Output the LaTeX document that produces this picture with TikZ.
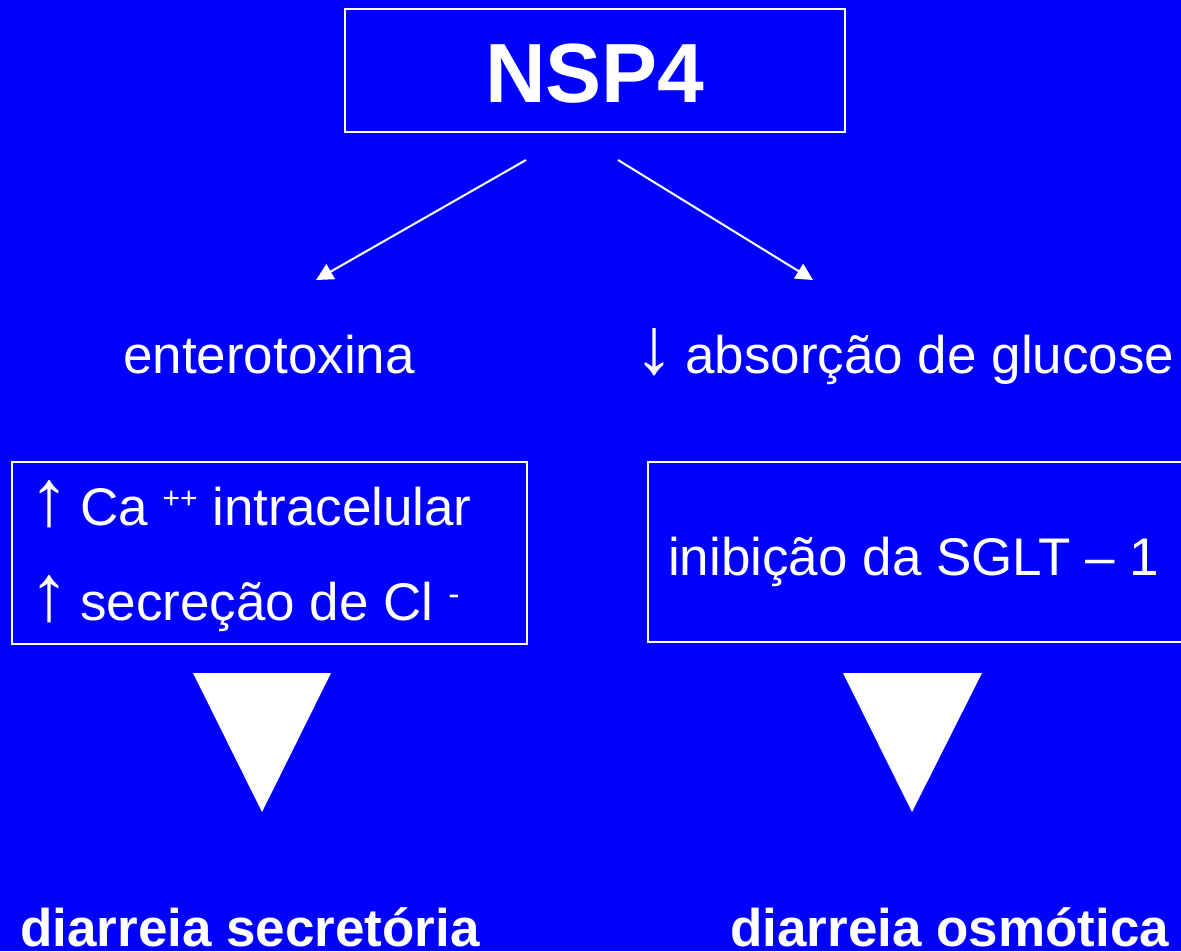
\documentclass[tikz,border=0pt]{standalone}
\usepackage{fontspec}
\setmainfont{Liberation Sans}
\usetikzlibrary{arrows.meta}
\definecolor{bgblue}{RGB}{0,0,255}
\newcommand{\bigup}{\makebox[51pt][l]{\fontsize{80}{80}\selectfont ↑}}
\newcommand{\bigdown}{\makebox[51pt][l]{\fontsize{80}{80}\selectfont ↓}}
\tikzset{
  frame/.style={draw=white, line width=2pt, inner sep=0pt},
  txt/.style={text=white, anchor=base west, inner sep=0pt, font=\fontsize{53}{60}\selectfont},
  btxt/.style={text=white, anchor=base west, inner sep=0pt, font=\fontsize{53}{60}\selectfont\bfseries},
  conn/.style={draw=white, line width=2pt, -{Triangle[length=17pt,width=17pt]}},
  tri/.style={fill=white}
}
\begin{document}
\begin{tikzpicture}[x=1pt,y=-1pt]
\fill[bgblue] (0,0) rectangle (1181,951);
\useasboundingbox (0,0) rectangle (1181,951);
% top box
\node[frame, minimum width=500pt, minimum height=123pt] (nsp) at (595,70.5) {};
\node[text=white, anchor=base, inner sep=0pt, font=\fontsize{84}{90}\selectfont\bfseries] (nsptxt) at (595,102) {NSP4};
% arrows
\coordinate (a1s) at (526,160);
\coordinate (a1e) at (316,280);
\coordinate (a2s) at (618,160);
\coordinate (a2e) at (813,280);
\draw[conn] (a1s) -- (a1e);
\draw[conn] (a2s) -- (a2e);
% middle labels
\node[txt] (entero) at (123,373) {enterotoxina};
\node[txt] (absor) at (634,373) {\bigdown absorção de glucose};
% left box
\node[frame, minimum width=515pt, minimum height=182pt] (lbox) at (269.5,553) {};
\node[txt] (ca) at (29,525) {\bigup Ca \raisebox{17pt}{\fontsize{30}{30}\selectfont ++} intracelular};
\node[txt] (cl) at (29,620) {\bigup secreção de Cl \raisebox{15pt}{\fontsize{34}{34}\selectfont -}};
% right box
\node[frame, minimum width=560pt, minimum height=180pt] (rbox) at (928,552) {};
\node[txt] (sglt) at (668,575) {inibição da SGLT – 1};
% triangles
\fill[tri] (193,673) -- (331,673) -- (262,812) -- cycle;
\fill[tri] (843,673) -- (982,673) -- (912,812) -- cycle;
% bottom labels
\node[btxt] (dsec) at (20,946) {diarreia secretória};
\node[btxt] (dosm) at (730,946) {diarreia osmótica};
\end{tikzpicture}
\end{document}
